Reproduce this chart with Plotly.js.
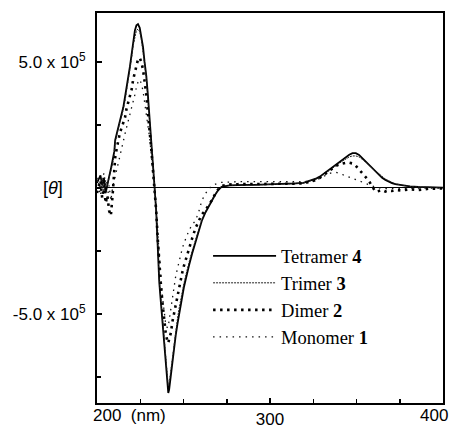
<!DOCTYPE html>
<html>
<head>
<meta charset="utf-8">
<script src="https://cdn.plot.ly/plotly-3.0.1.min.js"></script>
<style>html,body{margin:0;padding:0;background:#fff;}#chart{width:458px;height:428px;}</style>
</head>
<body>
<div id="chart"></div>
<script>
// Wavelength (nm)
var wavelength = [200,202,203,204,205,206,207,208,209,210,210.5,211.5,212.4,213.3,214.3,215.2,216.2,217.1,218.1,219,220,220.9,221.9,222.8,223.7,224.7,225.6,226.6,227.5,228.5,229.4,230.4,231.3,232.3,233.2,234.2,235.1,236,237,237.9,238.9,239.8,240.8,241.2,241.7,242.7,243.6,244.6,245.5,246.5,247.4,248.3,249.3,250.2,251.2,252.1,253.1,255,256.9,258.8,260.6,262.5,264.4,266.3,268.2,270.1,272,276.7,281.5,286.2,290.9,295.7,300.4,305.1,309.8,314.6,319.3,324,326.9,328.8,330.7,332.6,334.5,336.3,338.2,340.1,342,343.9,345.8,347.7,349.6,351.5,353.4,355.3,357.2,359.1,361,362.9,364.8,366.7,368.6,370.5,372.4,376.2,380.9,385.6,392,400];
// Molar ellipticity [theta], in units of 10^5
var tetramer4 = [0.2,0.5,0.1,0.4,-0.2,0.2,0.45,0.75,1.05,1.45,1.9,2.2,2.5,2.75,2.95,3.2,3.6,4.0,4.4,4.8,5.3,5.85,6.25,6.45,6.5,6.35,6.05,5.6,5.0,4.45,3.7,2.85,2.0,0.9,0.1,-0.9,-2.3,-3.75,-4.6,-5.4,-6.2,-7.0,-7.8,-8.13,-8.0,-7.4,-6.8,-6.3,-5.85,-5.4,-5.0,-4.6,-4.25,-3.95,-3.65,-3.35,-3.1,-2.6,-2.15,-1.7,-1.3,-1.0,-0.75,-0.5,-0.28,-0.08,0.04,0.1,0.12,0.12,0.12,0.13,0.13,0.14,0.16,0.18,0.2,0.3,0.38,0.45,0.55,0.63,0.72,0.82,0.92,1.02,1.12,1.22,1.32,1.38,1.38,1.31,1.18,1.05,0.9,0.78,0.63,0.5,0.4,0.32,0.25,0.19,0.15,0.1,0.06,0.04,0.02,0.01];
var trimer3 = [0.3,0.0,0.4,-0.2,0.3,0.1,0.4,0.65,0.95,1.35,1.8,2.1,2.4,2.65,2.85,3.1,3.45,3.85,4.25,4.65,5.15,5.65,6.05,6.25,6.3,6.2,5.9,5.45,4.9,4.35,3.6,2.8,1.95,0.9,0.1,-0.85,-2.2,-3.6,-4.45,-5.25,-6.0,-6.8,-7.55,-7.85,-7.75,-7.2,-6.6,-6.1,-5.65,-5.2,-4.8,-4.45,-4.1,-3.8,-3.5,-3.22,-2.98,-2.5,-2.05,-1.62,-1.25,-0.95,-0.7,-0.46,-0.25,-0.06,0.05,0.1,0.12,0.12,0.12,0.13,0.13,0.14,0.15,0.17,0.2,0.28,0.36,0.42,0.52,0.6,0.69,0.78,0.88,0.98,1.07,1.16,1.23,1.27,1.27,1.23,1.14,1.03,0.9,0.79,0.66,0.54,0.44,0.35,0.28,0.22,0.17,0.11,0.06,0.04,0.02,0.01];
var dimer2 = [-0.2,0.3,-0.4,0.1,-0.6,-0.3,-0.9,-1.1,-0.3,0.7,1.2,1.6,1.95,2.2,2.4,2.6,2.8,3.15,3.4,3.7,3.9,4.3,4.6,4.9,5.1,5.16,5.0,4.7,4.25,3.7,3.0,2.4,1.6,0.75,0.05,-0.9,-2.0,-3.1,-3.9,-4.6,-5.25,-5.8,-6.1,-6.15,-6.0,-5.75,-5.3,-4.95,-4.55,-4.25,-3.95,-3.65,-3.35,-3.1,-2.85,-2.65,-2.45,-2.0,-1.6,-1.3,-1.05,-0.9,-0.72,-0.5,-0.25,-0.05,0.08,0.14,0.15,0.15,0.15,0.15,0.16,0.16,0.17,0.17,0.18,0.25,0.32,0.4,0.5,0.6,0.71,0.8,0.88,0.94,0.98,1.0,1.0,0.97,0.88,0.72,0.58,0.42,0.28,0.05,-0.15,-0.12,-0.08,-0.14,-0.1,-0.12,-0.08,-0.1,-0.05,-0.08,-0.03,-0.02];
var monomer1 = [0.4,-0.3,0.2,0.6,0.1,-0.4,0.1,-0.5,0.0,0.3,0.55,0.8,1.1,1.4,1.65,1.9,2.15,2.4,2.65,2.9,3.15,3.4,3.7,4.0,4.2,4.3,4.15,3.85,3.45,3.0,2.55,2.0,1.4,0.65,0.0,-0.8,-1.8,-2.8,-3.6,-4.35,-5.0,-5.45,-5.55,-5.5,-5.25,-4.8,-4.3,-3.9,-3.5,-3.2,-2.9,-2.65,-2.4,-2.2,-2.0,-1.85,-1.7,-1.45,-1.3,-0.95,-0.5,-0.25,-0.05,0.08,0.15,0.2,0.22,0.24,0.25,0.25,0.25,0.24,0.24,0.23,0.24,0.25,0.25,0.28,0.32,0.38,0.45,0.52,0.58,0.62,0.62,0.58,0.53,0.45,0.4,0.35,0.3,0.25,0.2,0.15,0.1,0.06,0.03,0.0,-0.02,-0.03,-0.02,-0.02,-0.01,0.0,0.0,0.0,0.0,0.0];

var seriesNames = ['Tetramer <b>4</b>', 'Trimer <b>3</b>', 'Dimer <b>2</b>', 'Monomer <b>1</b>'];
var xTickVals = [300];
var xTickText = ['300'];
var yTickVals = [-5, 5];
var yTickText = ['-5.0 x 10<sup>5</sup>', '5.0 x 10<sup>5</sup>'];

var traces = [
  {x: wavelength, y: tetramer4, name: seriesNames[0], mode: 'lines', line: {color: '#000', width: 1.8}},
  {x: wavelength, y: trimer3, name: seriesNames[1], mode: 'lines', line: {color: '#222', width: 1, dash: '2px,1px'}},
  {x: wavelength, y: dimer2, name: seriesNames[2], mode: 'lines', line: {color: '#000', width: 2.6, dash: '2.5px,4.5px'}},
  {x: wavelength, y: monomer1, name: seriesNames[3], mode: 'lines', line: {color: '#111', width: 1.3, dash: '1.5px,5px'}}
];

var yFont = {family: 'Liberation Sans, Arial, sans-serif', size: 17, color: '#000'};
var xFont = {family: 'Liberation Sans, Arial, sans-serif', size: 17, color: '#000'};

var layout = {
  width: 458, height: 428,
  margin: {l: 97, r: 15, t: 13, b: 25},
  paper_bgcolor: '#fff', plot_bgcolor: '#fff',
  showlegend: true,
  legend: {
    x: 0.321, y: 0.425, xanchor: 'left', yanchor: 'top',
    bgcolor: 'rgba(0,0,0,0)', borderwidth: 0,
    font: {family: 'Liberation Serif, Times New Roman, serif', size: 18.5, color: '#000'},
    itemwidth: 63, tracegroupgap: 0
  },
  xaxis: {
    range: [200, 400], showgrid: false, zeroline: false,
    showline: true, linecolor: '#000', linewidth: 2, mirror: true,
    tickmode: 'array', tickvals: xTickVals, ticktext: xTickText,
    ticks: 'inside', ticklen: 5, tickwidth: 2, tickcolor: '#000',
    minor: {dtick: 25, tick0: 200, ticks: 'inside', ticklen: 4, tickwidth: 1.5, tickcolor: '#000', showgrid: false},
    tickfont: xFont, fixedrange: true
  },
  yaxis: {
    range: [-8.53, 6.94], showgrid: false,
    zeroline: true, zerolinecolor: '#000', zerolinewidth: 1,
    showline: true, linecolor: '#000', linewidth: 2, mirror: true,
    tickmode: 'array', tickvals: yTickVals, ticktext: yTickText,
    ticks: 'inside', ticklen: 5, tickwidth: 2, tickcolor: '#000',
    minor: {dtick: 2.5, tick0: 0, ticks: 'inside', ticklen: 4, tickwidth: 1.5, tickcolor: '#000', showgrid: false},
    tickfont: yFont, ticklabelstandoff: 6, fixedrange: true
  },
  annotations: [
    {text: '[<i>θ</i>]', xref: 'paper', yref: 'y', x: -0.128, y: 0, xanchor: 'center', yanchor: 'middle', showarrow: false, font: {family: 'Liberation Sans, Arial, sans-serif', size: 18, color: '#000'}},
    {text: '200&nbsp;&nbsp;(nm)', xref: 'x', yref: 'paper', x: 200, y: 0, xanchor: 'left', yanchor: 'top', xshift: -6, yshift: -1, showarrow: false, font: xFont},
    {text: '400', xref: 'x', yref: 'paper', x: 400, y: 0, xanchor: 'right', yanchor: 'top', xshift: 7, yshift: -1, showarrow: false, font: xFont}
  ]
};

Plotly.newPlot('chart', traces, layout, {displayModeBar: false, staticPlot: true});
</script>
</body>
</html>
